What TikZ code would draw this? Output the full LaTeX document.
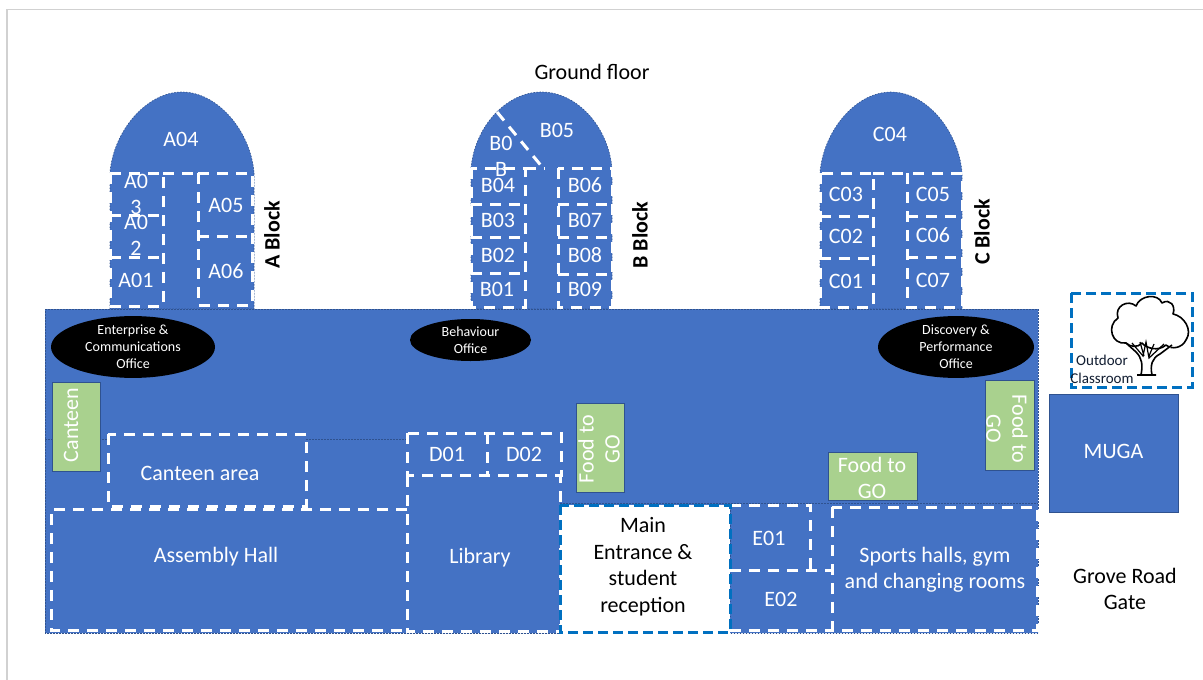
\documentclass[tikz,border=0pt]{standalone}
\usepackage{fontspec}
\setmainfont{Carlito}
\newcommand{\fsz}[2]{\fontsize{#1}{#2}\selectfont}
\definecolor{bl}{HTML}{4472C4}
\definecolor{bldark}{HTML}{2F528F}
\definecolor{grn}{HTML}{A9D18E}
\definecolor{entr}{HTML}{0070C0}
\tikzset{
  x=1pt,y=-1pt,
  roomln/.style={draw=white,line width=3pt,dash pattern=on 11pt off 8pt},
  blueshape/.style={fill=bl,draw=bldark,line width=0.6pt,dash pattern=on 1.5pt off 1.5pt},
  lab/.style={text=white,font=\fsz{22}{26},align=center,inner sep=0pt},
  blk/.style={text=black,font=\fsz{22}{26.5},align=center,inner sep=0pt},
  sidelab/.style={text=black,font=\fsz{22}{22}\bfseries,rotate=90,inner sep=0pt},
  office/.style={fill=black,ellipse,text=white,font=\fsz{14}{17},align=center,inner sep=0pt},
  greenbox/.style={fill=grn,draw=bldark,line width=0.6pt,inner sep=0pt},
  greentext/.style={text=white,font=\fsz{22}{26},align=center,inner sep=0pt},
}
\usetikzlibrary{shapes.geometric}
\begin{document}
\begin{tikzpicture}
\useasboundingbox (0,0) rectangle (1203,680);
\fill[white] (0,0) rectangle (1203,680);
\draw[black!18,line width=1.5pt] (7,680) -- (7,9.5) -- (1203,9.5);
% blocks
\newcommand{\dome}[3]{\path[blueshape] (#1,309) -- (#1,#3) .. controls (#1+4,#3-42) and (#1/2+#2/2-35,92) .. (#1/2+#2/2,92) .. controls (#1/2+#2/2+35,92) and (#2-4,#3-42) .. (#2,#3) -- (#2,309) -- cycle;}
\dome{110}{254}{172}
\dome{471}{612}{168}
\dome{820}{962}{172}
% main building
\path[blueshape] (45,309) -- (1038,309) -- (1038,633) -- (730,633) -- (730,505) -- (560,505) -- (560,633) -- (45,633) -- cycle;
\draw[bldark,line width=0.6pt,dash pattern=on 1.5pt off 1.5pt] (45,439) -- (108,439) (306,439) -- (407,439) (560,503) -- (1038,503);
% A rooms
\draw[roomln] (110,173) rectangle (163,306);
\draw[roomln] (110,215) -- (163,215) (110,257) -- (163,257);
\draw[roomln] (198,173) rectangle (252,305);
\draw[roomln] (198,236) -- (252,236);
\draw[roomln] (163,173) -- (198,173);
% B rooms
\draw[roomln] (471,168) rectangle (525,307);
\draw[roomln] (471,204) -- (525,204) (471,237) -- (525,237) (471,273) -- (525,273);
\draw[roomln] (558,168) rectangle (612,307);
\draw[roomln] (558,204) -- (612,204) (558,237) -- (612,237) (558,274) -- (612,274);
\draw[roomln] (525,168) -- (545,168);
\draw[roomln] (497,112) -- (543,168);
% C rooms
\draw[roomln] (820,173) rectangle (873,307);
\draw[roomln] (820,216) -- (873,216) (820,258) -- (873,258);
\draw[roomln] (907,173) rectangle (962,307);
\draw[roomln] (907,216) -- (962,216) (907,257) -- (962,257);
\draw[roomln] (873,173) -- (907,173);
% ground rooms
\draw[roomln] (108,434) rectangle (306,506);
\draw[roomln] (407,433) rectangle (561,475);
\draw[roomln] (487,433) -- (487,475);
\draw[roomln] (407,476) -- (407,631) -- (560,631) -- (560,476);
\draw[roomln] (407,509) -- (51,509) -- (51,630) -- (407,630);
\draw[roomln] (730,505) -- (810,505) -- (810,570);
\draw[roomln] (730,570) -- (832,570);
\draw[roomln] (730,630) -- (832,630);
\draw[roomln] (832,507) rectangle (1037,630);
\fill[white] (560,505) rectangle (730,632);
\draw[entr,line width=3pt,dash pattern=on 10pt off 5pt] (560,505) rectangle (730,632);
% labels
\node[lab] (a04) at (181,139) {A04};
\node[lab] (a03) at (136,194) {A0\\3};
\node[lab] (a02) at (136,235) {A0\\2};
\node[lab] (a01) at (136,280) {A01};
\node[lab] (a05) at (226,205) {A05};
\node[lab] (a06) at (226,271) {A06};
\node[lab] (b05) at (557,130) {B05};
\node[lab] (b00) at (501,156) {B0\\B};
\node[lab] (b04) at (498,185) {B04};
\node[lab] (b03) at (498,220) {B03};
\node[lab] (b02) at (498,255) {B02};
\node[lab] (b01) at (497,289) {B01};
\node[lab] (b06) at (585,185) {B06};
\node[lab] (b07) at (585,220) {B07};
\node[lab] (b08) at (585,255) {B08};
\node[lab] (b09) at (585,289) {B09};
\node[lab] (c04) at (890,134) {C04};
\node[lab] (c03) at (846,194) {C03};
\node[lab] (c02) at (846,236) {C02};
\node[lab] (c01) at (846,281) {C01};
\node[lab] (c05) at (933,194) {C05};
\node[lab] (c06) at (933,235) {C06};
\node[lab] (c07) at (933,280) {C07};
\node[sidelab] (ablock) at (272,235) {A Block};
\node[sidelab] (bblock) at (640,235) {B Block};
\node[sidelab] (cblock) at (982,232) {C Block};
\node[blk] (title) at (592,72) {Ground floor};
\node[office,minimum width=164pt,minimum height=56pt] (off1) at (133,347) {Enterprise \&\\Communications\\Office};
\node[office,minimum width=121pt,minimum height=42pt] (off2) at (470.5,340) {Behaviour\\Office};
\node[office,minimum width=156pt,minimum height=56pt] (off3) at (956,347) {Discovery \&\\Performance\\Office};
\node[greenbox,minimum width=48pt,minimum height=89pt] (canteen) at (76,426.5) {};
\node[greentext,rotate=90] (canteent) at (71,425) {Canteen};
\node[greenbox,minimum width=48pt,minimum height=89pt] (food1) at (600,447.5) {};
\node[greentext,rotate=90] (food1t) at (599,449) {Food to\\GO};
\node[greenbox,minimum width=89pt,minimum height=48pt] (food2) at (872.5,476) {};
\node[greentext] (food2t) at (872,478) {Food to\\GO};
\node[greenbox,minimum width=49pt,minimum height=90pt] (food3) at (1009.5,425) {};
\node[greentext,rotate=-90] (food3t) at (1007,429) {Food to\\GO};
\node[lab] (canteenarea) at (200,473) {Canteen area};
\node[lab] (d01) at (447,454) {D01};
\node[lab] (d02) at (524,454) {D02};
\node[lab] (library) at (480,558) {Library};
\node[lab] (assembly) at (216,557) {Assembly Hall};
\node[blk] (entrance) at (643,566.5) {Main\\Entrance \&\\student\\reception};
\node[lab] (e01) at (769,538) {E01};
\node[lab] (e02) at (781,599) {E02};
\node[lab] (sports) at (935,570) {Sports halls, gym\\and changing rooms};
\node[fill=bl,draw=bldark,line width=0.6pt,minimum width=129pt,minimum height=118pt,inner sep=0pt] (muga) at (1113.5,453) {};
\node[lab] (mugat) at (1113.5,451.5) {MUGA};
\node[blk] (gate) at (1125,589) {Grove Road\\Gate};
% outdoor classroom
\draw[entr,line width=3pt,dash pattern=on 10pt off 5pt] (1071,293) rectangle (1192,387);
\draw[black,line width=1.6pt,fill=white,line join=round]
  (1126,343) .. controls (1112,345) and (1106,326) .. (1118,318)
  .. controls (1114,306) and (1128,299) .. (1136,306)
  .. controls (1140,295) and (1158,293) .. (1162,303)
  .. controls (1170,298) and (1176,306) .. (1173,314)
  .. controls (1184,316) and (1193,330) .. (1186,340)
  .. controls (1182,348) and (1172,350) .. (1166,345)
  .. controls (1158,352) and (1146,348) .. (1142,343)
  .. controls (1138,348) and (1130,347) .. (1126,343) -- cycle;
\draw[black,line width=1.6pt,fill=white,line join=round]
  (1141,375) .. controls (1143,365) and (1142,358) .. (1136,352) -- (1126,343)
  (1152,375) .. controls (1150,365) and (1152,358) .. (1160,354) -- (1172,345)
  (1137,375) -- (1156,375);
\draw[black,line width=1.2pt] (1132,343) -- (1143,356) -- (1146,342) -- (1149,358) -- (1164,344)
  (1140,342) -- (1144,356) (1154,344) -- (1149,356);
\node[text=black!75!bl,font=\fsz{15}{18},inner sep=0pt] (out1) at (1102,360) {Outdoor};
\node[text=black!75!bl,font=\fsz{15}{18},inner sep=0pt] (out2) at (1102,378) {Classroom};
\end{tikzpicture}
\end{document}
